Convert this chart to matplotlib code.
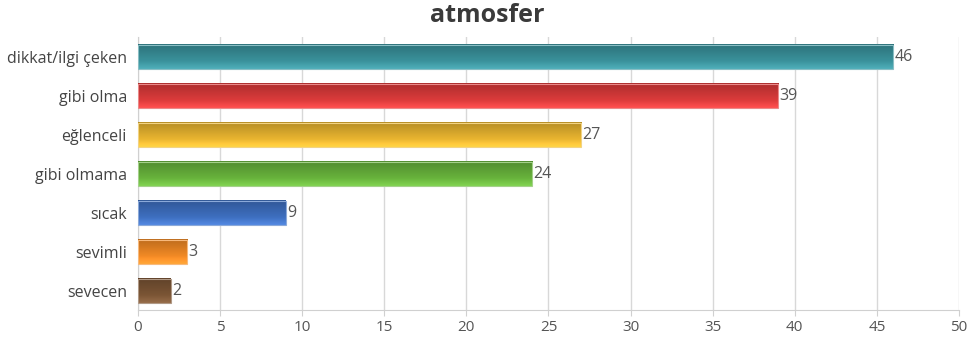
import numpy as np
import matplotlib.pyplot as plt
import matplotlib.colors as mcolors

plt.rcParams['font.family'] = ['Open Sans', 'DejaVu Sans']

categories = ['dikkat/ilgi çeken', 'gibi olma', 'eğlenceli', 'gibi olmama',
              'sıcak', 'sevimli', 'sevecen']
values = [46, 39, 27, 24, 9, 3, 2]
colors = ['#3a929c', '#dc3b3b', '#e9b530', '#68b33c', '#3e6fc0', '#f28a25', '#7b5535']
x_ticks = [0, 5, 10, 15, 20, 25, 30, 35, 40, 45, 50]
title = 'atmosfer'


def gradient_bar(ax, y, width, height, color):
    base = np.array(mcolors.to_rgb(color))
    t = np.linspace(0, 1, 64)
    # darker at the top, lighter toward the bottom
    shade = 0.78 + 0.32 * t
    rows = base[None, :] * shade[:, None]
    lift = np.clip(shade - 1.0, 0, None)[:, None]
    rows = np.clip(rows + lift * 0.6, 0, 1)
    img = rows[:, None, :]
    ax.imshow(img, extent=(0, width, y + height / 2, y - height / 2),
              aspect='auto', interpolation='bilinear', zorder=3)
    edge = np.clip(base * 0.6 + 0.4, 0, 1)
    ax.add_patch(plt.Rectangle((0, y - height / 2), width, height, fill=False,
                               edgecolor=mcolors.to_hex(edge), linewidth=0.8,
                               zorder=4))


fig = plt.figure(figsize=(9.68, 3.43), dpi=100)
ax = fig.add_axes([0.1426, 0.0948, 0.848, 0.796])

bar_h = 0.62
for i, (cat, val, col) in enumerate(zip(categories, values, colors)):
    gradient_bar(ax, i, val, bar_h, col)
    ax.text(val + 0.08, i, str(val), va='center', ha='left', fontsize=11.5,
            color='#555555', zorder=5)

ax.set_xlim(0, 50)
ax.set_ylim(len(categories) - 0.5, -0.5)
ax.set_yticks(range(len(categories)))
ax.set_yticklabels(categories, fontsize=11.5, color='#444444')
ax.set_xticks(x_ticks)
ax.set_xticklabels([str(t) for t in x_ticks], fontsize=11, color='#555555')

ax.grid(axis='x', color='#d8d8d8', linewidth=1, zorder=0)
ax.set_axisbelow(True)
for side in ['top', 'right']:
    ax.spines[side].set_visible(False)
ax.spines['left'].set_color('#d0d0d0')
ax.spines['bottom'].set_color('#d0d0d0')
ax.tick_params(axis='y', length=0, pad=8)
ax.tick_params(axis='x', length=4, color='#d0d0d0', pad=3)

fig.text(0.503, 0.955, title, ha='center', va='center', fontsize=18,
         fontweight='bold', color='#3a3a3a')

fig.savefig('out.png', dpi=100)
